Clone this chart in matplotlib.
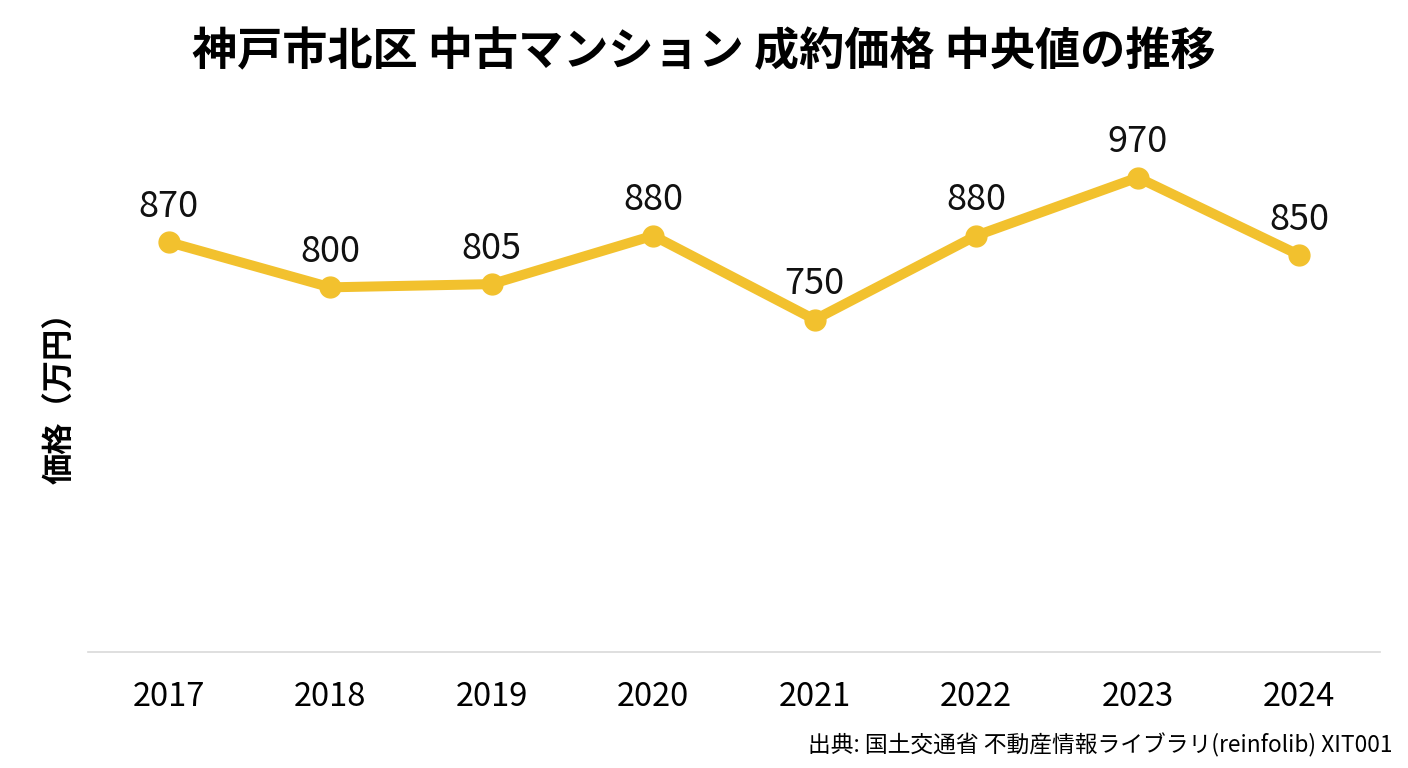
import matplotlib
matplotlib.use("Agg")
import matplotlib.pyplot as plt

plt.rcParams['font.family'] = ['Noto Sans CJK JP', 'DejaVu Sans']

years = ['2017', '2018', '2019', '2020', '2021', '2022', '2023', '2024']
prices = [870, 800, 805, 880, 750, 880, 970, 850]

title = '神戸市北区 中古マンション 成約価格 中央値の推移'
ylabel = '価格（万円）'
source = '出典: 国土交通省 不動産情報ライブラリ(reinfolib) XIT001'

fig = plt.figure(figsize=(14.08, 7.68), dpi=100)
ax = fig.add_axes([88 / 1408, 1 - 652 / 768, (1380 - 88) / 1408, (652 - 100) / 768])

x = list(range(len(years)))
ax.plot(x, prices, color='#F2C12E', linewidth=7.2, marker='o', markersize=15,
        solid_capstyle='round', zorder=3)

for xi, v in zip(x, prices):
    ax.annotate(str(v), (xi, v), xytext=(0, 25.5), textcoords='offset points',
                ha='center', va='center', fontsize=26, color='#111111')

ax.set_xlim(-0.5, len(years) - 0.5)
ax.set_ylim(235.5, 1090)
ax.set_xticks(x)
ax.set_xticklabels(years, fontsize=23.5)
ax.tick_params(axis='x', length=0, pad=21)
ax.set_yticks([])
for s in ['top', 'right', 'left']:
    ax.spines[s].set_visible(False)
ax.spines['bottom'].set_color('#d9d9d9')
ax.spines['bottom'].set_linewidth(1.2)

fig.text(0.5, 1 - 52 / 768, title, ha='center', va='center', fontsize=32.5, fontweight='bold')
fig.text(60 / 1408, 1 - 390 / 768, ylabel, ha='center', va='center', rotation=90,
         fontsize=22.5, fontweight='bold')
fig.text(1392 / 1408, 1 - 745 / 768, source, ha='right', va='center', fontsize=16.4)

fig.savefig('out.png', dpi=100, facecolor='white')
